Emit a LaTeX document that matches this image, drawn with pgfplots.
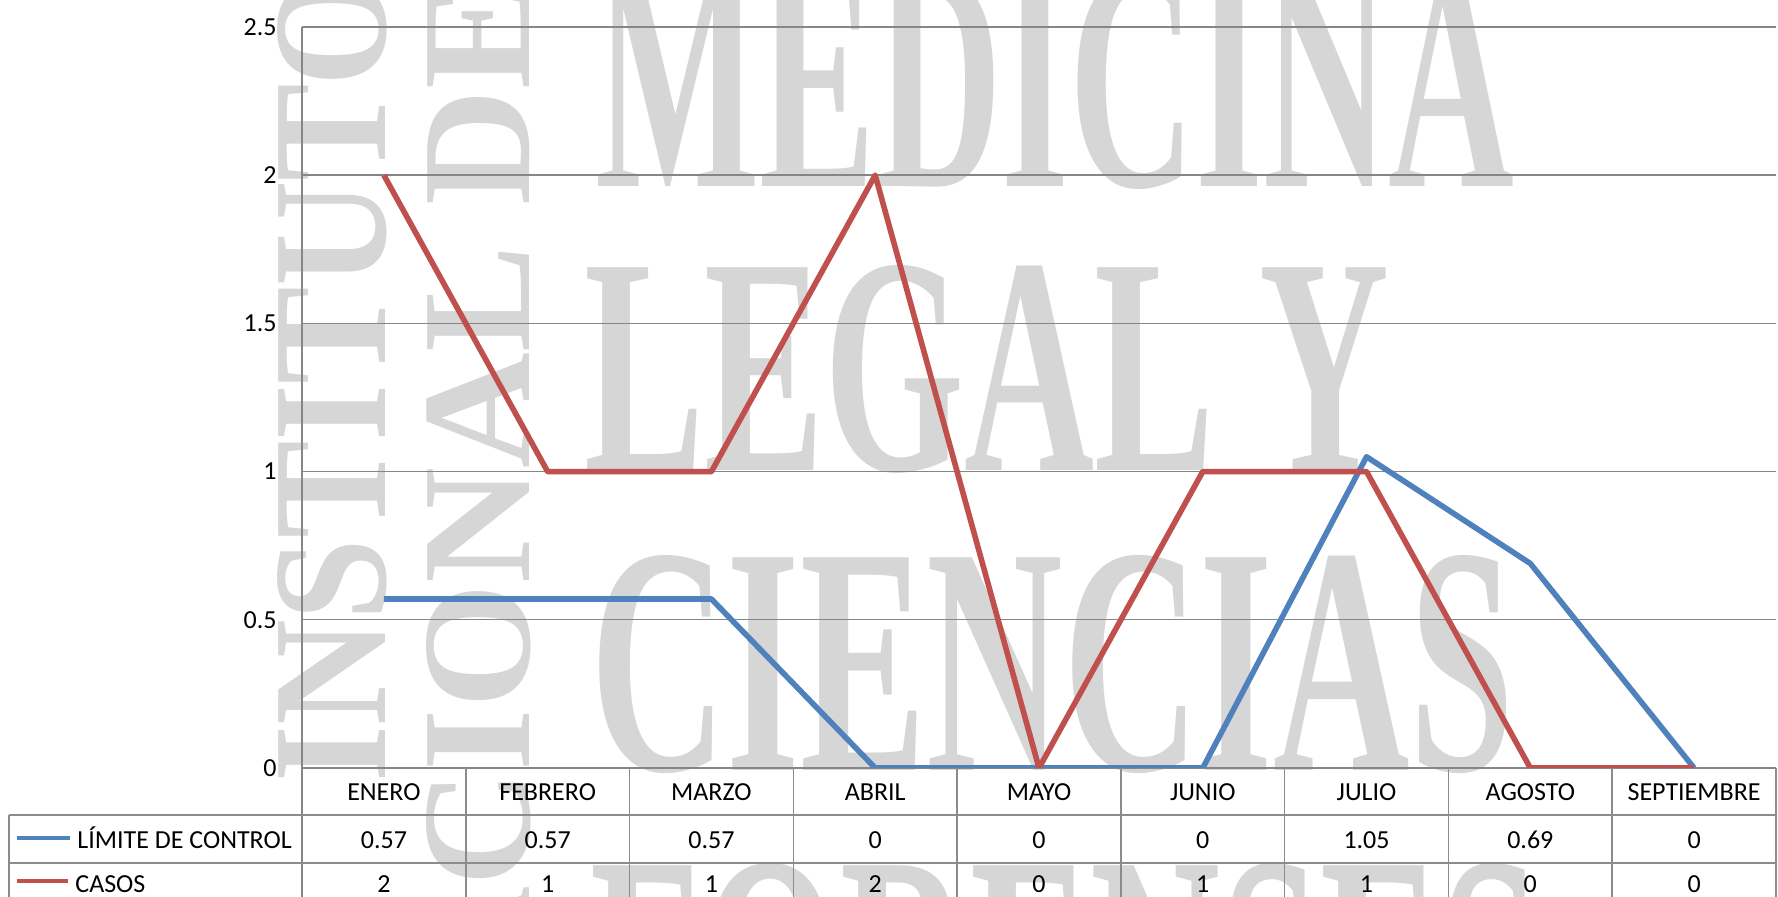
\documentclass[border=0pt]{standalone}
\usepackage{fontspec}
\setmainfont{Carlito}
\newfontfamily\wm{Liberation Serif}
\usepackage{graphicx}
\usepackage{pgfplots}
\pgfplotsset{compat=1.18}
\definecolor{lcblue}{RGB}{79,129,189}
\definecolor{lcred}{RGB}{192,80,77}
\definecolor{wmgray}{RGB}{214,214,214}
\definecolor{gridgray}{RGB}{134,134,134}
\definecolor{tabgray}{RGB}{140,140,140}
\newcommand\tf{\fontsize{13}{15}\selectfont}
\tikzset{tc/.style={font=\tf, text height=8.4pt, text depth=0pt, inner sep=0pt, anchor=center}}

\begin{document}
\begin{tikzpicture}
\clip (-151pt,-64.5pt) rectangle (738pt,384pt);
\fill[white] (-151pt,-64.5pt) rectangle (738pt,384pt);
% watermark
\begin{scope}[every node/.style={inner sep=0pt, text=wmgray}]
\node[anchor=base west] at (146.5pt,290.5pt) {\resizebox{459.5pt}{106pt}{\wm\bfseries MEDICINA}};
\node[anchor=base west] at (141pt,148.5pt) {\resizebox{402.5pt}{102.5pt}{\wm\bfseries LEGAL Y}};
\node[anchor=base west] at (144pt,-1.5pt) {\resizebox{462pt}{107.5pt}{\wm\bfseries CIENCIAS}};
\node[anchor=base west] at (144pt,-154pt) {\resizebox{475pt}{106pt}{\wm\bfseries FORENSES}};
\node[anchor=base west, rotate=90] at (42pt,-7.5pt) {\resizebox{405pt}{54pt}{\wm\bfseries INSTITUTO}};
\node[anchor=base west, rotate=90] at (114pt,-175.5pt) {\resizebox{568pt}{51.5pt}{\wm\bfseries NACIONAL DE}};
\end{scope}
\begin{axis}[
  scale only axis, width=737pt, height=370.5pt,
  xmin=-0.5, xmax=8.5, ymin=0, ymax=2.5,
  xtick=\empty, ytick={0,0.5,1,1.5,2,2.5},
  ymajorgrids, grid style={gridgray, line width=0.7pt},
  axis x line*=bottom, axis y line*=left,
  axis line style={gridgray, line width=1.1pt, -},
  major tick length=0pt, tick style={draw=none},
  yticklabel style={font=\tf, anchor=east, inner sep=0pt, xshift=-12.5pt},
  /pgf/number format/assume math mode=true,
  clip mode=individual,
]
\addplot[lcblue, line width=2.8pt, line join=round] coordinates {(0,0.57)(1,0.57)(2,0.57)(3,0)(4,0)(5,0)(6,1.05)(7,0.69)(8,0)};
\addplot[lcred, line width=2.8pt, line join=round] coordinates {(0,2)(1,1)(2,1)(3,2)(4,0)(5,1)(6,1)(7,0)(8,0)};
% table grid
\draw[gridgray, line width=1.1pt] (axis cs:-0.5,0) -- ([yshift=-70pt]axis cs:-0.5,0);
\draw[tabgray, line width=0.8pt]
  (axis cs:0.5,0) -- ([yshift=-70pt]axis cs:0.5,0)
  (axis cs:1.5,0) -- ([yshift=-70pt]axis cs:1.5,0)
  (axis cs:2.5,0) -- ([yshift=-70pt]axis cs:2.5,0)
  (axis cs:3.5,0) -- ([yshift=-70pt]axis cs:3.5,0)
  (axis cs:4.5,0) -- ([yshift=-70pt]axis cs:4.5,0)
  (axis cs:5.5,0) -- ([yshift=-70pt]axis cs:5.5,0)
  (axis cs:6.5,0) -- ([yshift=-70pt]axis cs:6.5,0)
  (axis cs:7.5,0) -- ([yshift=-70pt]axis cs:7.5,0)
  (axis cs:8.5,0) -- ([yshift=-70pt]axis cs:8.5,0)
  ([xshift=-146.5pt,yshift=-23.5pt]axis cs:-0.5,0) -- ([yshift=-23.5pt]axis cs:8.5,0)
  ([xshift=-146.5pt,yshift=-47.5pt]axis cs:-0.5,0) -- ([yshift=-47.5pt]axis cs:8.5,0)
  ([xshift=-146.5pt,yshift=-23.5pt]axis cs:-0.5,0) -- ([xshift=-146.5pt,yshift=-70pt]axis cs:-0.5,0);
% header row
\node[tc] at ([yshift=-12.3pt]axis cs:0,0) {ENERO};
\node[tc] at ([yshift=-12.3pt]axis cs:1,0) {FEBRERO};
\node[tc] at ([yshift=-12.3pt]axis cs:2,0) {MARZO};
\node[tc] at ([yshift=-12.3pt]axis cs:3,0) {ABRIL};
\node[tc] at ([yshift=-12.3pt]axis cs:4,0) {MAYO};
\node[tc] at ([yshift=-12.3pt]axis cs:5,0) {JUNIO};
\node[tc] at ([yshift=-12.3pt]axis cs:6,0) {JULIO};
\node[tc] at ([yshift=-12.3pt]axis cs:7,0) {AGOSTO};
\node[tc] at ([yshift=-12.3pt]axis cs:8,0) {SEPTIEMBRE};
% row 1
\draw[lcblue, line width=1.7pt] ([xshift=-142.5pt,yshift=-35pt]axis cs:-0.5,0) -- ([xshift=-116pt,yshift=-35pt]axis cs:-0.5,0);
\node[tc, anchor=west] at ([xshift=-112.5pt,yshift=-36pt]axis cs:-0.5,0) {LÍMITE DE CONTROL};
\node[tc] at ([yshift=-36pt]axis cs:0,0) {0.57};
\node[tc] at ([yshift=-36pt]axis cs:1,0) {0.57};
\node[tc] at ([yshift=-36pt]axis cs:2,0) {0.57};
\node[tc] at ([yshift=-36pt]axis cs:3,0) {0};
\node[tc] at ([yshift=-36pt]axis cs:4,0) {0};
\node[tc] at ([yshift=-36pt]axis cs:5,0) {0};
\node[tc] at ([yshift=-36pt]axis cs:6,0) {1.05};
\node[tc] at ([yshift=-36pt]axis cs:7,0) {0.69};
\node[tc] at ([yshift=-36pt]axis cs:8,0) {0};
% row 2
\draw[lcred, line width=1.7pt] ([xshift=-142.5pt,yshift=-56.5pt]axis cs:-0.5,0) -- ([xshift=-117pt,yshift=-56.5pt]axis cs:-0.5,0);
\node[tc, anchor=west] at ([xshift=-113.5pt,yshift=-58.3pt]axis cs:-0.5,0) {CASOS};
\node[tc] at ([yshift=-58.3pt]axis cs:0,0) {2};
\node[tc] at ([yshift=-58.3pt]axis cs:1,0) {1};
\node[tc] at ([yshift=-58.3pt]axis cs:2,0) {1};
\node[tc] at ([yshift=-58.3pt]axis cs:3,0) {2};
\node[tc] at ([yshift=-58.3pt]axis cs:4,0) {0};
\node[tc] at ([yshift=-58.3pt]axis cs:5,0) {1};
\node[tc] at ([yshift=-58.3pt]axis cs:6,0) {1};
\node[tc] at ([yshift=-58.3pt]axis cs:7,0) {0};
\node[tc] at ([yshift=-58.3pt]axis cs:8,0) {0};
\end{axis}
\end{tikzpicture}
\end{document}
